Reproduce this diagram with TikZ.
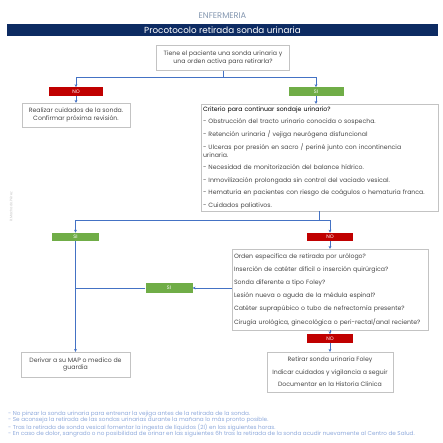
\documentclass[tikz,border=0pt]{standalone}
\usepackage{fontspec}
\setmainfont{Poppins}
\usetikzlibrary{arrows.meta,positioning}
\definecolor{navy}{RGB}{13,43,98}
\definecolor{nored}{RGB}{192,0,0}
\definecolor{sigreen}{RGB}{112,173,71}
\definecolor{lineblue}{RGB}{68,114,196}
\definecolor{boxgray}{RGB}{195,195,195}
\definecolor{textgray}{RGB}{70,70,70}
\definecolor{headgray}{RGB}{132,151,176}
\definecolor{notesblue}{RGB}{142,169,219}
\tikzset{
	>={Stealth[length=2.8pt,width=2.8pt]},
	flow/.style={draw=lineblue,line width=0.5pt},
	box/.style={draw=boxgray,line width=0.4pt,rectangle,align=center,text=textgray,font=\fontsize{6.2}{7.5}\selectfont,inner sep=2pt},
	listbox/.style={box,align=left,inner xsep=2pt},
	tag/.style={rectangle,text=white,font=\fontsize{5}{5}\selectfont,minimum height=8.5pt,inner sep=0pt},
	nobox/.style={tag,fill=nored,minimum width=46pt},
	sibox/.style={tag,fill=sigreen,minimum width=47pt},
	titlebar/.style={fill=navy,text=white,font=\fontsize{8.8}{9}\selectfont,minimum width=431pt,minimum height=12pt,inner sep=0pt},
	notes/.style={align=left,text=notesblue,font=\fontsize{5.7}{6.2}\selectfont,inner sep=0pt}
}
\begin{document}
\begin{tikzpicture}[x=1pt,y=-1pt]
	\useasboundingbox (0,0) rectangle (443,443);
	% cabecera
	\node[font=\fontsize{8.3}{9}\selectfont,text=headgray] (enf) at (222.5,16) {ENFERMERIA};
	\node[titlebar] (tit) at (222.5,30) {Procotocolo retirada sonda urinaria};
	\node[rotate=90,font=\fontsize{3.5}{4}\selectfont,text=boxgray] (firma) at (11,207) {R.Machado.Pérez};
	
	\node[box,minimum width=133pt,minimum height=25pt] (preg) at (223,58) {Tiene el paciente una sonda urinaria y\\ una orden activa para retirarla?};
	\node[coordinate] (spreg) at (223,77.5) {};
	\node[nobox,minimum width=54pt] (no1) at (76,91.5) {NO};
	\node[sibox,minimum width=55pt] (si1) at (316,91.5) {SI};
	\node[box,minimum width=108pt,minimum height=24pt] (cuid) at (76,115) {Realizar cuidados de la sonda.\\ Confirmar próxima revisión.};
	\node[listbox,text width=233pt,minimum height=107pt] (crit) at (319.5,157.5) {%
		{\color{black}Criterio para continuar sondaje urinario?}\\[5pt]
		- Obstrucción del tracto urinario conocida o sospecha.\\[5pt]
		- Retención urinaria / vejiga neurógena disfuncional\\[5pt]
		- Ulceras por presión en sacro / periné junto con incontinencia\\ urinaria.\\[5pt]
		- Necesidad de monitorización del balance hídrico.\\[5pt]
		- Inmovilización prolongada sin control del vaciado vesical.\\[5pt]
		- Hematuria en pacientes con riesgo de coágulos o hematuria franca.\\[5pt]
		- Cuidados paliativos.};
	\node[coordinate] (scrit) at (319.5,220) {};
	\node[sibox] (si2) at (75.5,237) {SI};
	\node[nobox] (no2) at (330,237) {NO};
	\node[listbox,text width=192pt,minimum height=81pt] (crit2) at (330,289.5) {%
		Orden especifica de retirada por urólogo?\\[5.7pt]
		Inserción de catéter difícil o inserción quirúrgica?\\[5.7pt]
		Sonda diferente a tipo Foley?\\[5.7pt]
		Lesión nueva o aguda de la médula espinal?\\[5.7pt]
		Catéter suprapúbico o tubo de nefrectomía presente?\\[5.7pt]
		Cirugía urológica, ginecológica o peri-rectal/anal reciente?};
	\node[sibox,minimum height=10pt] (si3) at (169,288) {SI};
	\node[nobox] (no3) at (330,338.5) {NO};
	\node[box,minimum width=126pt,minimum height=40pt] (retir) at (330,372) {Retirar sonda urinaria Foley\\[5pt] Indicar cuidados y vigilancia a seguir\\[5pt] Documentar en la Historia Clinica};
	\node[box,minimum width=109pt,minimum height=25pt] (deriv) at (75.5,364.5) {Derivar a su MAP o medico de\\ guardia};
	
	\node[notes,anchor=north west] (notas) at (8,410.5) {%
		- No pinzar la sonda urinaria para entrenar la vejiga antes de la retirada de la sonda.\\
		- Se aconseja la retirada de las sondas urinarias durante la mañana lo más pronto posible.\\
		- Tras la retirada de sonda vesical fomentar la ingesta de líquidos (2l) en las siguientes horas.\\
		- En caso de dolor, sangrado o no posibilidad de orinar en las siguientes 6h tras la retirada de la sonda acudir nuevamente al Centro de Salud.};
	
	\draw[flow] (preg) -- (spreg);
	\draw[flow,->] (spreg) -| (no1);
	\draw[flow,->] (spreg) -| (si1);
	\draw[flow,->] (no1) -- (cuid);
	\draw[flow,->] (si1) -- (si1 |- crit.north);
	\draw[flow] (crit) -- (scrit);
	\draw[flow,->] (scrit) -| (si2);
	\draw[flow,->] (scrit) -| (no2);
	\draw[flow,->] (no2) -- (crit2);
	\draw[flow,->] (si3 -| crit2.west) -- (si3);
	\draw[flow] (si3) -- (si3 -| si2);
	\draw[flow,->] (si2) -- (deriv);
	\draw[flow,->] (crit2) -- (no3);
	\draw[flow,->] (no3) -- (retir);
\end{tikzpicture}
\end{document}
